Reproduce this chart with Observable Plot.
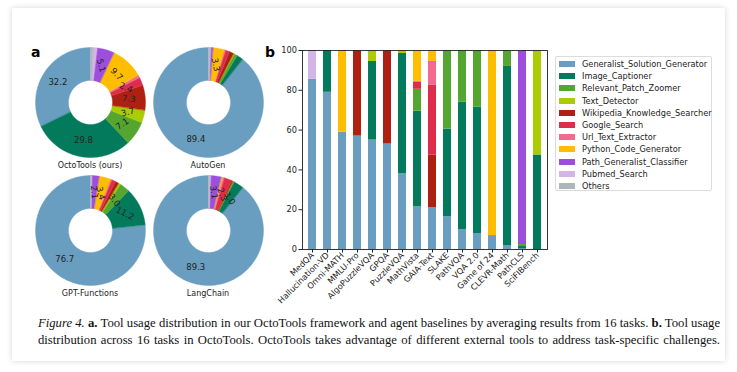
<!DOCTYPE html>
<html><head><meta charset="utf-8">
<script src="https://cdn.jsdelivr.net/npm/d3@7"></script>
<script src="https://cdn.jsdelivr.net/npm/@observablehq/plot@0.6"></script>
<style>
html,body{margin:0;padding:0;background:#fff;}
body{width:737px;height:372px;overflow:hidden;position:relative;font-family:"DejaVu Sans",sans-serif;color:#222;}
#card{position:absolute;left:12px;top:8px;width:713px;height:353px;background:#fff;box-shadow:0 0 6px rgba(0,0,0,0.16);}
.abs{position:absolute;}
.panel{font-family:"DejaVu Sans",sans-serif;font-weight:bold;font-size:14px;color:#000;}
.dtitle{font-size:8px;text-align:center;width:140px;white-space:nowrap;}
#legend{position:absolute;left:555px;top:56px;width:157px;height:135px;border:1px solid #dcdcdc;border-radius:2px;background:#fff;box-sizing:border-box;}
.lrow{position:absolute;left:3px;height:12px;font-size:8.2px;line-height:12px;white-space:nowrap;}
.sw{position:absolute;left:0;top:3px;width:16px;height:6px;}
.lt{position:absolute;left:23px;top:0;}
#caption{position:absolute;left:38px;top:315px;width:682px;font-family:"Liberation Serif","Times New Roman",serif;font-size:12.7px;line-height:17px;color:#111;}
#caption div{text-align:justify;text-align-last:justify;white-space:nowrap;}
</style></head><body>
<div id="card"></div>
<div class="abs panel" style="left:31px;top:44px;">a</div>
<div class="abs panel" style="left:265px;top:44px;">b</div>
<div id="donuts"></div>
<div id="bars" class="abs"></div>
<div id="legend"></div>
<div id="caption">
<div><i>Figure 4.</i> <b>a.</b> Tool usage distribution in our OctoTools framework and agent baselines by averaging results from 16 tasks. <b>b.</b> Tool usage</div>
<div>distribution across 16 tasks in OctoTools. OctoTools takes advantage of different external tools to address task-specific challenges.</div>
</div>
<script>
// ---------- data ----------
const tools = ["Generalist_Solution_Generator","Image_Captioner","Relevant_Patch_Zoomer","Text_Detector","Wikipedia_Knowledge_Searcher","Google_Search","Url_Text_Extractor","Python_Code_Generator","Path_Generalist_Classifier","Pubmed_Search","Others"];
const colors = ["#6a9ec0","#037a5c","#55a630","#aacc00","#ae2012","#dd2d4a","#f26a8d","#ffbd00","#9d4edd","#d5b4e6","#adb5bd"];

const agents = ["OctoTools (ours)","AutoGen","GPT-Functions","LangChain"];
const octoTools    = [32.2,29.8,7.1,3.7,7.3,2.4,0.8,9.7,5.1,1.2,0.7];
const autoGen      = [89.4,1.9,0.9,0.3,1.3,1.2,0.4,3.3,0.7,0.2,0.4];
const gptFunctions = [76.7,11.2,3.0,0.6,1.0,1.2,0.4,3.4,2.1,0.2,0.2];
const langChain    = [89.3,3.0,0.3,0.1,0.4,2.3,0.5,0.4,3.1,0.3,0.3];

const tasks = ["MedQA","Hallucination-VD","Omni-MATH","MMLU-Pro","AlgoPuzzleVQA","GPQA","PuzzleVQA","MathVista","GAIA-Text","SLAKE","PathVQA","VQA 2.0","Game of 24","CLEVR-Math","PathCLS","SciFIBench"];
const generalistSolutionGenerator = [85.5,79,59,57,55,53,38,21.5,21,16.5,10,8,7,2,0.5,0];
const imageCaptioner              = [0,21,0,0,39.5,0,60.5,48,0,44,64,63.5,0,90,1,47.5];
const relevantPatchZoomer         = [0,0,0,0,0,0,0,11,0,39.5,26,28.5,0,8,1,0];
const textDetector                = [0,0,0,0,5.5,0,1.5,0,0,0,0,0,0,0,0,52.5];
const wikipediaKnowledgeSearcher  = [0,0,0,43,0,47,0,0,26.5,0,0,0,0,0,0,0];
const googleSearch                = [0,0,0,0,0,0,0,3.5,35,0,0,0,0,0,0,0];
const urlTextExtractor            = [0,0,0,0,0,0,0,0.5,12,0,0,0,0,0,0,0];
const pythonCodeGenerator         = [0,0,41,0,0,0,0,15.5,5.5,0,0,0,93,0,0,0];
const pathGeneralistClassifier    = [0,0,0,0,0,0,0,0,0,0,0,0,0,0,97.5,0];
const pubmedSearch                = [14.5,0,0,0,0,0,0,0,0,0,0,0,0,0,0,0];
const others                      = [0,0,0,0,0,0,0,0,0,0,0,0,0,0,0,0];
const yTicks = [0,20,40,60,80,100];

// ---------- shared ----------
const colorScale = {type:"ordinal", domain: tools, range: colors};

// ---------- donuts ----------
const donutSpecs = [
  {name: agents[0], vals: octoTools,    cx: 90,  cy: 102},
  {name: agents[1], vals: autoGen,      cx: 208, cy: 102},
  {name: agents[2], vals: gptFunctions, cx: 90,  cy: 230},
  {name: agents[3], vals: langChain,    cx: 208, cy: 230}
];
const R = 55, W = 116, dom = W/2/R, inner = 0.4, labR = 0.7;
const donutHost = document.getElementById("donuts");
for (const spec of donutSpecs) {
  let cum = 0; const pts = [], labs = [];
  spec.vals.forEach((v, i) => {
    const f0 = cum/100, f1 = (cum+v)/100; cum += v;
    if (v <= 0) return;
    const a0 = Math.PI/2 + f0*2*Math.PI, a1 = Math.PI/2 + f1*2*Math.PI;
    const n = Math.max(2, Math.ceil((a1-a0)/(Math.PI/180)));
    for (let k=0;k<=n;k++){const a=a0+(a1-a0)*k/n; pts.push({tool:tools[i], x:Math.cos(a), y:Math.sin(a)});}
    for (let k=n;k>=0;k--){const a=a0+(a1-a0)*k/n; pts.push({tool:tools[i], x:inner*Math.cos(a), y:inner*Math.sin(a)});}
    if (v >= 2) {
      const am = (a0+a1)/2; let deg = am*180/Math.PI; deg = ((deg+180)%360+360)%360-180;
      labs.push({x: labR*Math.cos(am), y: labR*Math.sin(am), text: v.toFixed(1), rot: v < 20 ? deg : 0});
    }
  });
  const p = Plot.plot({
    width: W, height: W, margin: 0,
    style: {background:"transparent", fontFamily:"DejaVu Sans", overflow:"visible"},
    x: {domain: [-dom, dom], axis: null},
    y: {domain: [-dom, dom], axis: null},
    color: colorScale,
    marks: [
      Plot.line(pts, {x:"x", y:"y", z:"tool", fill:"tool", stroke:"tool", strokeWidth:0.4, curve:"linear-closed"}),
      Plot.text(labs, {x:"x", y:"y", text:"text", rotate:"rot", fontSize:8.5, fill:"#222"})
    ]
  });
  p.style.position = "absolute";
  p.style.left = (spec.cx - W/2) + "px";
  p.style.top = (spec.cy - W/2) + "px";
  donutHost.appendChild(p);
  const t = document.createElement("div");
  t.className = "abs dtitle";
  t.textContent = spec.name;
  t.style.left = (spec.cx - 70) + "px";
  t.style.top = (spec.cy + 59) + "px";
  donutHost.appendChild(t);
}

// ---------- stacked bars ----------
const series = [generalistSolutionGenerator, imageCaptioner, relevantPatchZoomer, textDetector, wikipediaKnowledgeSearcher, googleSearch, urlTextExtractor, pythonCodeGenerator, pathGeneralistClassifier, pubmedSearch, others];
const barData = [];
series.forEach((arr, i) => arr.forEach((v, j) => barData.push({task: tasks[j], tool: tools[i], value: v})));

const bars = Plot.plot({
  width: 280, height: 256, marginLeft: 30, marginRight: 5, marginTop: 5, marginBottom: 52,
  style: {background:"transparent", fontFamily:"DejaVu Sans", fontSize:"8.2px", color:"#222", overflow:"visible"},
  x: {domain: tasks, paddingInner: 0.48, paddingOuter: 0.14, label: null},
  y: {domain: [0, 100], label: null},
  color: colorScale,
  marks: [
    Plot.barY(barData, {x:"task", y:"value", fill:"tool"}),
    Plot.axisX({tickRotate: -45, tickSize: 3.5, tickPadding: 1, label: null, fontSize: 8.2}),
    Plot.axisY({ticks: yTicks, tickSize: 3.5, tickPadding: 2, label: null, fontSize: 8.2}),
    Plot.frame({stroke: "#222", strokeWidth: 0.9})
  ]
});
const barHost = document.getElementById("bars");
barHost.style.left = "272px"; barHost.style.top = "44.5px";
barHost.appendChild(bars);

// ---------- legend ----------
const leg = document.getElementById("legend");
tools.forEach((t, i) => {
  const r = document.createElement("div");
  r.className = "lrow";
  r.style.top = (1 + i*12.2) + "px";
  r.innerHTML = `<span class="sw" style="background:${colors[i]}"></span><span class="lt">${t}</span>`;
  leg.appendChild(r);
});
</script>
</body></html>
